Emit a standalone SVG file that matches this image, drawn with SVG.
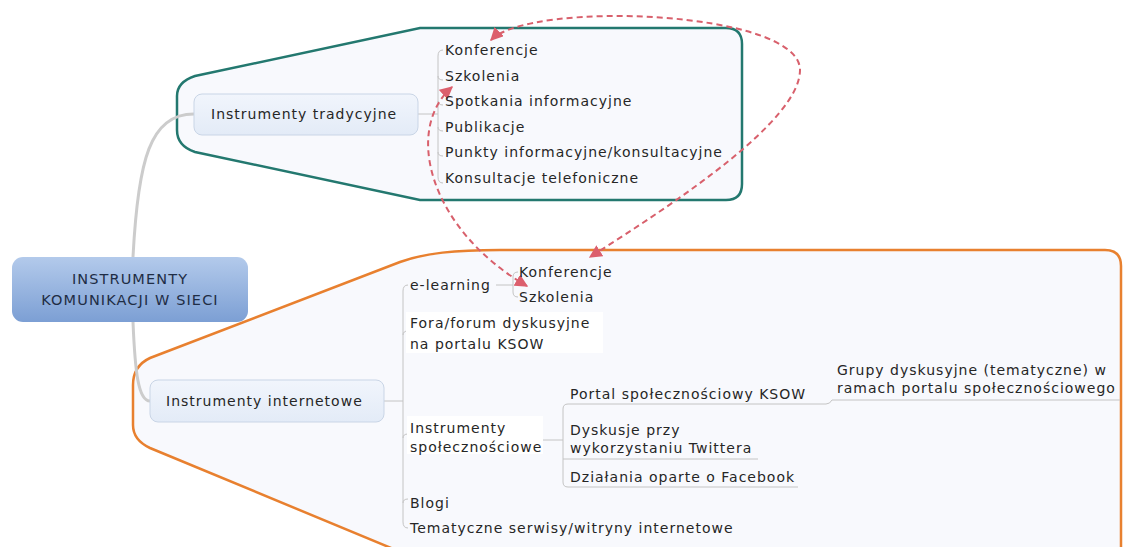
<svg xmlns="http://www.w3.org/2000/svg" width="1123" height="547" viewBox="0 0 1123 547">
<style>
.t{font-family:"DejaVu Sans","Verdana",sans-serif;font-size:14px;fill:#262626;letter-spacing:1px}
.c{font-family:"DejaVu Sans","Verdana",sans-serif;font-size:14.5px;fill:#1f2d45;letter-spacing:1.1px;text-anchor:middle}
.br{fill:none;stroke:#c4c4c4;stroke-width:1}
.main{fill:none;stroke:#cccccc;stroke-width:3}
.node{fill:url(#ng);stroke:#c9d5e6;stroke-width:1}
.rel{fill:none;stroke:#d8606c;stroke-width:2;stroke-dasharray:6 4}
.ul{fill:none;stroke:#c4c4c4;stroke-width:1}
</style>
<defs>
<linearGradient id="cg" x1="0" y1="0" x2="0" y2="1">
<stop offset="0" stop-color="#b3caeb"/>
<stop offset="1" stop-color="#7c9fd4"/>
</linearGradient>
<linearGradient id="ng" x1="0" y1="0" x2="0" y2="1">
<stop offset="0" stop-color="#f1f5fc"/>
<stop offset="1" stop-color="#e3ebf7"/>
</linearGradient>
<marker id="ar" viewBox="0 0 10 10" refX="9" refY="5" markerWidth="13" markerHeight="13" markerUnits="userSpaceOnUse" orient="auto-start-reverse">
<path d="M0,0 L10,5 L0,10 z" fill="#dc5f6d"/>
</marker>
</defs>
<rect width="1123" height="547" fill="#ffffff"/>

<g id="boundaries">
<path d="M420,28 L726,28 Q742,28 742,44 L742,184 Q742,200 726,200 L420,200 L195,152 Q177,146 177,130 L177,96 Q177,82 195,76 Z" fill="#f8f9fd" stroke="#23786f" stroke-width="2.5"/>
<path d="M1130,250 L1105,250 Q1121,250 1121,266 L1121,560 L420,560 L150,448 Q133,440 133,425 L133,385 Q133,366 150,358 L400,262 C425,253 455,250 500,250 Z" fill="#f8f9fd" stroke="none"/>
<path d="M420,560 L150,448 Q133,440 133,425 L133,385 Q133,366 150,358 L400,262 C425,253 455,250 500,250 L1105,250 Q1121,250 1121,266 L1121,560" fill="none" stroke="#e8802f" stroke-width="2.5"/>
</g>

<g id="connectors">
<path class="main" d="M133,257 C138,160 150,114 194,114"/>
<path class="main" d="M133,322 C135,370 138,401 150,401"/>
<path class="br" d="M418,114 L438,114"/>
<path class="br" d="M443,50 Q438,50 438,56 L438,177 Q438,183 443,183 M438,76 Q438,80 443,80 M438,101 Q438,105 443,105 M438,127 Q438,131 443,131 M438,152 Q438,156 443,156"/>
<path class="br" d="M384,401 L403,401"/>
<path class="br" d="M408,285 Q403,285 403,291 L403,522 Q403,528 408,528 M403,335 Q403,331 408,331 M403,438 Q403,434 408,434 M403,503 Q403,499 408,499"/>
<path class="br" d="M496,285 L513,285 M518,272 Q513,272 513,277 L513,292 Q513,297 518,297"/>
<path class="br" d="M542,440 L563,440"/>
<path class="ul" d="M563,459 L563,482 Q563,487 568,487 L798,487 M563,459 L758,459 M563,459 L563,409 Q563,404 568,404 L826,404 Q830,404 832,400 L1120,400"/>
</g>

<g id="relationships">
<path class="rel" d="M491,40 C530,0 800,10 800,70 C800,120 680,200 590,257" marker-start="url(#ar)" marker-end="url(#ar)"/>
<path class="rel" d="M452,87 C403,130 430,230 527,286" marker-start="url(#ar)" marker-end="url(#ar)"/>
</g>

<g id="central">
<rect x="12" y="257" width="236" height="65" rx="11" fill="url(#cg)"/>
<text class="c" x="130" y="284">INSTRUMENTY</text>
<text class="c" x="130" y="305">KOMUNIKACJI W SIECI</text>
</g>

<g id="tradycyjne">
<rect class="node" x="194" y="94" width="224" height="41" rx="8"/>
<text class="t" x="211" y="119">Instrumenty tradycyjne</text>
</g>
<g id="trad-items">
<text class="t" x="445" y="55">Konferencje</text>
<text class="t" x="445" y="80.5">Szkolenia</text>
<text class="t" x="445" y="106">Spotkania informacyjne</text>
<text class="t" x="445" y="131.5">Publikacje</text>
<text class="t" x="445" y="157">Punkty informacyjne/konsultacyjne</text>
<text class="t" x="445" y="182.5">Konsultacje telefoniczne</text>
</g>

<g id="internetowe">
<rect class="node" x="150" y="380" width="234" height="42" rx="8"/>
<text class="t" x="166" y="406">Instrumenty internetowe</text>
</g>

<g id="elearning">
<text class="t" x="410" y="290">e-learning</text>
<text class="t" x="519" y="277">Konferencje</text>
<text class="t" x="519" y="302">Szkolenia</text>
</g>

<g id="fora">
<rect x="406" y="312" width="197" height="41" fill="#ffffff"/>
<text class="t" x="410" y="328">Fora/forum dyskusyjne</text>
<text class="t" x="410" y="349">na portalu KSOW</text>
</g>

<g id="spolecznosciowe">
<rect x="407" y="416" width="136" height="38" fill="#ffffff"/>
<text class="t" x="410" y="433">Instrumenty</text>
<text class="t" x="410" y="452">społecznościowe</text>
</g>

<g id="portal">
<text class="t" x="570" y="399">Portal społecznościowy KSOW</text>
</g>
<g id="grupy">
<text class="t" x="837" y="375">Grupy dyskusyjne (tematyczne) w</text>
<text class="t" x="837" y="393">ramach portalu społecznościowego</text>
</g>
<g id="twitter">
<text class="t" x="570" y="435">Dyskusje przy</text>
<text class="t" x="570" y="453">wykorzystaniu Twittera</text>
</g>
<g id="facebook">
<text class="t" x="570" y="482">Działania oparte o Facebook</text>
</g>
<g id="blogi">
<text class="t" x="410" y="508">Blogi</text>
</g>
<g id="tematyczne">
<text class="t" x="410" y="533">Tematyczne serwisy/witryny internetowe</text>
</g>
</svg>
